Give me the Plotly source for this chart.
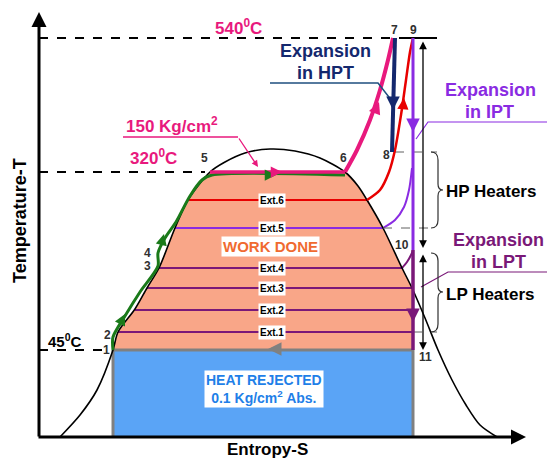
import plotly.graph_objects as go

# ---------------- data (diagram coordinates: x = entropy, y = temperature level, top = 0) -------------
dome_s = [60, 80, 97, 113, 118, 135, 147, 159, 175, 188, 210, 225, 245, 270, 295, 320, 345, 358, 367, 383, 402, 412, 425, 438, 452, 466, 480, 497]
dome_t = [437, 415, 390, 350, 332, 309, 288, 268, 228, 200, 172, 162, 153, 149, 151, 158, 172, 186, 200, 228, 268, 288, 318, 350, 380, 405, 425, 437]

work_s = [113, 118, 135, 147, 159, 175, 188, 200, 210, 345, 358, 367, 383, 402, 413, 413]
work_t = [350, 332, 309, 288, 268, 228, 200, 184, 172, 172, 186, 200, 228, 268, 290, 350]

heat_s = [113, 413, 413, 113]
heat_t = [350, 350, 437, 437]

green_s = [113, 113, 125, 140, 158, 158, 165, 176, 190, 202, 212, 345]
green_t = [350, 337, 316, 292, 266, 253, 238, 222, 196, 180, 175, 175]

pink_s = [345, 357, 370, 380, 388, 393]
pink_t = [172, 150, 120, 90, 60, 38]
boil_s = [210, 345]
boil_t = [172, 172]

hpt_s = [395, 392]
hpt_t = [38, 152]

reheat_s = [367, 380, 389, 395, 401, 406, 410, 413]
reheat_t = [200, 190, 172, 150, 115, 80, 52, 38]

ipt_s = [413, 413]
ipt_t = [38, 250]
lpt_s = [413, 413]
lpt_t = [250, 350]

ext5_curve_s = [383, 395, 404, 409, 412]
ext5_curve_t = [228, 220, 207, 190, 168]
ext4_curve_s = [402, 407, 411, 413]
ext4_curve_t = [268, 262, 255, 250]

ext_names = ["Ext.6", "Ext.5", "Ext.4", "Ext.3", "Ext.2", "Ext.1"]
ext_t = [200, 228, 268, 288, 310, 332]
ext_s0 = [188, 175, 159, 147, 135, 118]
ext_s1 = [367, 383, 402, 413, 413, 413]
ext_col = ["#e80000", "#8a2be2", "#7a1878", "#7a1878", "#7a1878", "#7a1878"]

pt_names = ["1", "2", "3", "4", "5", "6", "7", "8", "9", "10", "11"]
pt_s = [106, 107, 147, 147, 204, 343, 394, 386, 413, 402, 425]
pt_t = [350, 335, 266, 253, 158, 158, 30, 155, 30, 245, 357]

T_top, T_boil, T_cond = 38, 172, 350

FONT = "Liberation Sans, Arial, sans-serif"
PINK = "#e8197d"
NAVY = "#14286e"
VIOLET = "#8a2be2"
LPURP = "#7a1878"

fig = go.Figure()

def line(xs, ys, color, width, dash=None):
    fig.add_trace(go.Scatter(x=xs, y=ys, mode="lines", hoverinfo="skip",
                             line=dict(color=color, width=width, dash=dash, shape="linear")))

def spline(xs, ys, color, width):
    fig.add_trace(go.Scatter(x=xs, y=ys, mode="lines", hoverinfo="skip",
                             line=dict(color=color, width=width, shape="spline", smoothing=0.8)))

# filled regions
fig.add_trace(go.Scatter(x=work_s, y=work_t, fill="toself", mode="lines", fillcolor="#f9a688",
                         line=dict(color="#f9a688", width=0), hoverinfo="skip"))
fig.add_trace(go.Scatter(x=heat_s, y=heat_t, fill="toself", mode="lines", fillcolor="#5aa4f6",
                         line=dict(color="#5aa4f6", width=0), hoverinfo="skip"))
# gray border of heat rejected
line([heat_s[0], heat_s[3]], [heat_t[0], heat_t[3]], "#808080", 3)
line([heat_s[1], heat_s[2]], [heat_t[1], heat_t[2]], "#808080", 3)
line([heat_s[0], heat_s[1]], [heat_t[0], heat_t[1]], "#808080", 3)

# extraction lines
for n, t, s0, s1, c in zip(ext_names, ext_t, ext_s0, ext_s1, ext_col):
    line([s0, s1], [t, t], c, 2.2)
spline(ext5_curve_s, ext5_curve_t, VIOLET, 2)
spline(ext4_curve_s, ext4_curve_t, LPURP, 2)

# dome
spline(dome_s, dome_t, "black", 1.6)

# dashed reference lines
line([39, 437], [T_top, T_top], "black", 2, "dash")
line([405, 437], [T_top, T_top], "black", 2)
line([39, 205], [T_boil, T_boil], "black", 2, "dash")
line([39, 110], [T_cond, T_cond], "black", 2, "dash")
line([395, 437], [152, 152], "#606060", 1, "dash")
line([383, 437], [228, 228], "#606060", 1, "dash")
line([413, 437], [332, 332], "#606060", 1, "dash")

# process lines
spline(green_s, green_t, "#1a7a1a", 3)
line(boil_s, boil_t, PINK, 3.5)
spline(pink_s, pink_t, PINK, 4)
spline(reheat_s, reheat_t, "#e80000", 2.5)
line(hpt_s, hpt_t, NAVY, 4)
line(ipt_s, ipt_t, VIOLET, 3)
line(lpt_s, lpt_t, LPURP, 3.5)

# leader lines
line([270, 378, 392], [83, 83, 101], "#1f4f7f", 1.5)
line([547, 428, 416], [122, 122, 139], VIOLET, 1.2)
line([547, 448, 421], [272, 272, 287], LPURP, 1.2)

ann = []
def arrow(x, y, ax, ay, color, w=2, head=2, size=1.0, side="end"):
    ann.append(dict(x=x, y=y, ax=ax, ay=ay, xref="x", yref="y", axref="x", ayref="y", text="",
                    showarrow=True, arrowhead=head, arrowsize=size, arrowwidth=w, arrowcolor=color,
                    arrowside=side, startarrowhead=head, startarrowsize=size))

# axes with arrows
arrow(39, 12, 39, 438, "black", 3, 2, 1.0)
arrow(526, 437, 37, 437, "black", 3, 2, 1.0)

# flow arrows
arrow(125, 314, 121, 322, "#1a7a1a", 2.5, 2, 0.9)
arrow(164, 234, 162, 242, "#1a7a1a", 2.5, 2, 0.9)
arrow(276, 175, 266, 175, "#1a7a1a", 2.5, 2, 0.9)
arrow(282, 172, 272, 172, PINK, 2.5, 2, 0.9)
arrow(379, 102, 375, 112, PINK, 3, 2, 0.8)
arrow(404, 98, 403, 108, "#e80000", 2.5, 2, 0.9)
arrow(393, 110, 393, 100, NAVY, 3, 2, 0.9)
arrow(413, 132, 413, 122, VIOLET, 3, 2, 0.9)
arrow(413, 322, 413, 312, LPURP, 3, 2, 0.9)
arrow(268, 349, 280, 349, "#808080", 3, 2, 0.9)
arrow(258, 167, 238, 137, PINK, 1.3, 2, 1.0)
line([123, 238], [137, 137], PINK, 1.3)

# heater double arrows
arrow(423, 248, 423, 40, "black", 1.3, 2, 1.2, "end+start")
arrow(423, 350, 423, 253, "black", 1.3, 2, 1.2, "end+start")

# braces
fig.add_shape(type="path", path="M 431,152 Q 438,152 438,160 L 438,184 Q 438,190 443,190 Q 438,190 438,196 L 438,220 Q 438,228 431,228",
              line=dict(color="#303030", width=1.2), xref="x", yref="y")
fig.add_shape(type="path", path="M 431,253 Q 438,253 438,261 L 438,286 Q 438,292 443,292 Q 438,292 438,298 L 438,324 Q 438,332 431,332",
              line=dict(color="#303030", width=1.2), xref="x", yref="y")

def text(x, y, t, size, color, bold=True, bg=None, angle=0, xanchor="center"):
    ann.append(dict(x=x, y=y, xref="x", yref="y", text=("<b>%s</b>" % t) if bold else t, showarrow=False,
                    font=dict(family=FONT, size=size, color=color), bgcolor=bg, textangle=angle,
                    xanchor=xanchor, yanchor="middle", borderpad=1))

text(20, 221, "Temperature-T", 18, "black", angle=-90)
text(267, 449, "Entropy-S", 17, "black")
text(238, 27, "540<sup>0</sup>C", 17, PINK)
text(172, 125, "150 Kg/cm<sup>2</sup>", 17, PINK)
text(153, 157, "320<sup>0</sup>C", 17, PINK)
text(65, 340, "45<sup>0</sup>C", 15, "black")
text(325, 51, "Expansion", 18, NAVY)
text(325, 73, "in HPT", 18, NAVY)
text(443, 90, "Expansion", 18, VIOLET, xanchor="left")
text(463, 112, "in IPT", 18, VIOLET, xanchor="left")
text(451, 240, "Expansion", 18, LPURP, xanchor="left")
text(469, 262, "in LPT", 18, LPURP, xanchor="left")
text(444, 191, "HP Heaters", 17, "black", xanchor="left")
text(444, 294, "LP Heaters", 17, "black", xanchor="left")
text(270, 246, "WORK DONE", 15, "#f06a30", bg="white")
text(264, 389, "HEAT REJECTED<br>0.1 Kg/cm<sup>2</sup> Abs.", 14, "#1f7fe8", bg="white")
for n, t in zip(ext_names, ext_t):
    text(272, t, n, 10, "black", bg="white")
for n, s, t in zip(pt_names, pt_s, pt_t):
    text(s, t, n, 12, "#303030")

fig.update_layout(
    width=547, height=461, margin=dict(l=0, r=0, t=0, b=0),
    paper_bgcolor="white", plot_bgcolor="white", showlegend=False,
    xaxis=dict(range=[0, 547], visible=False, fixedrange=True),
    yaxis=dict(range=[461, 0], visible=False, fixedrange=True),
    annotations=ann,
)
fig.write_html("out.html", config={"displayModeBar": False},
               post_script="document.body.style.margin='0';document.body.style.overflow='hidden';")
